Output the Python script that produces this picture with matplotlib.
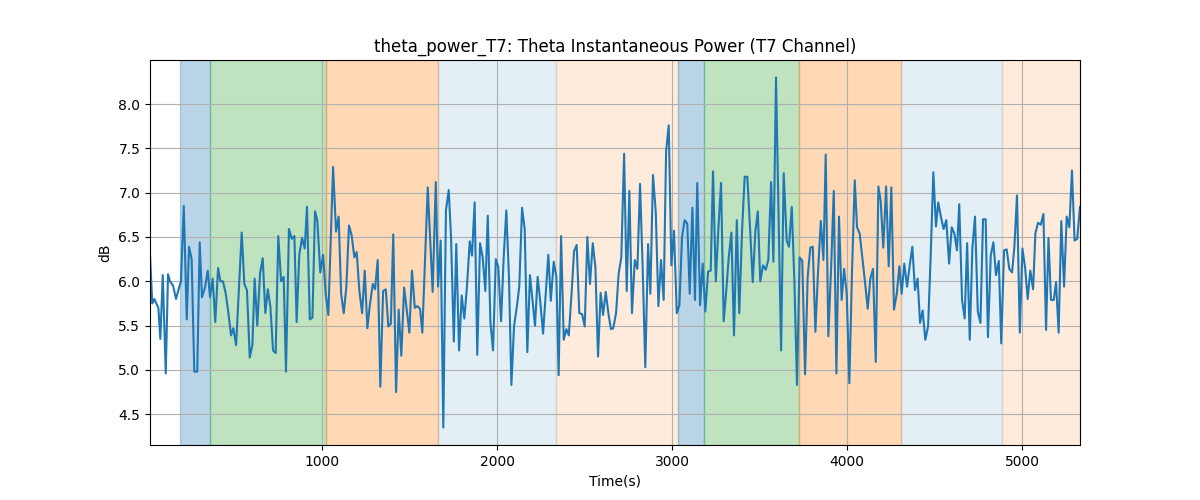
import matplotlib
matplotlib.use('Agg')
import matplotlib.pyplot as plt

# time stamps (s) and theta power (dB)
time_s = [17, 30, 42, 53, 65, 76, 90, 107, 120, 131, 149, 166, 179, 194, 210, 227, 240, 255, 270, 287,
          301, 314, 331, 347, 360, 375, 390, 406, 419, 434, 450, 465, 480, 493, 509,
          541, 556, 571, 587, 602, 615, 630, 646, 661, 676, 690, 705, 720, 735, 750, 766, 781, 794, 811,
          827, 842, 855, 870, 886, 901, 914, 930, 945, 960, 973, 990, 1006, 1021, 1036,
          1063, 1080, 1095, 1109, 1124, 1139, 1154, 1169, 1185, 1198, 1213, 1229, 1244, 1259, 1273, 1290,
          1303, 1318, 1333, 1349, 1364, 1379, 1393, 1407, 1423, 1438, 1453, 1469, 1484, 1499, 1514, 1530,
          1545, 1560, 1573,
          1604, 1632, 1650, 1663, 1678, 1693, 1708, 1724, 1737, 1753, 1767, 1783, 1798, 1813, 1828, 1844,
          1857, 1872, 1887, 1903, 1918, 1933, 1947, 1962, 1977, 1993, 2007, 2023, 2038, 2053,
          2068, 2082, 2097, 2113, 2127, 2143, 2158, 2173, 2188, 2204, 2217, 2232, 2247, 2263, 2278, 2293,
          2307, 2324, 2339, 2352, 2366, 2381, 2396, 2410, 2427, 2440, 2455, 2470, 2486, 2501, 2516, 2531,
          2547, 2562, 2577,
          2592, 2606, 2621, 2636, 2651, 2664, 2680, 2695, 2710, 2726, 2741, 2756, 2771, 2787, 2802, 2817,
          2832, 2847, 2863, 2876, 2891, 2907, 2922, 2937, 2952, 2966, 2981, 2996, 3011, 3027, 3042, 3057,
          3072, 3087, 3101,
          3116, 3131, 3144, 3160, 3175, 3190, 3206, 3221, 3234, 3250, 3264, 3280, 3295, 3310, 3324, 3339,
          3354, 3370, 3384, 3400, 3415, 3430, 3446, 3461, 3476, 3490, 3504, 3520, 3535, 3550, 3566, 3579,
          3594,
          3623, 3638, 3655, 3668, 3684, 3699, 3714, 3729, 3744, 3760, 3775, 3790, 3804, 3819, 3834, 3850,
          3865, 3878, 3893, 3909, 3924, 3939, 3954, 3969, 3983, 3998, 4013, 4028, 4044, 4057, 4072, 4087,
          4102, 4118,
          4133, 4148, 4164, 4179, 4192, 4207, 4223, 4238, 4253, 4268, 4284, 4299, 4312, 4327, 4343, 4358,
          4373, 4388, 4403, 4417, 4432, 4447, 4463, 4478, 4493, 4508, 4521, 4537, 4552, 4567, 4583, 4598,
          4613, 4628, 4641,
          4657, 4672, 4686, 4701, 4716, 4731, 4747, 4762, 4777, 4792, 4805, 4821, 4836, 4851, 4867, 4881,
          4897, 4912, 4927, 4943, 4956, 4971, 4987, 5002, 5017, 5032, 5047, 5063, 5076, 5091, 5107, 5122,
          5137, 5151,
          5165, 5181, 5194, 5209, 5224, 5240, 5255, 5270, 5285, 5300, 5315, 5331]

power_db = [6.30, 5.75, 5.80, 5.75, 5.70, 5.35, 6.07, 4.96, 6.08, 6.00, 5.95, 5.80, 5.90, 6.00, 6.85, 5.57,
            6.39, 6.25, 4.98, 4.98, 6.44, 5.82, 5.93, 6.12, 5.82, 6.03, 5.54, 6.15, 6.00, 6.00, 5.86, 5.64,
            5.39, 5.47, 5.28,
            6.55, 5.97, 5.90, 5.14, 5.28, 6.03, 5.50, 6.09, 6.26, 5.64, 5.91, 5.71, 5.22, 5.19, 6.51, 6.00,
            6.05, 4.98, 6.59, 6.48, 6.51, 5.54, 6.30, 6.49, 6.37, 6.84, 5.57, 5.59, 6.79, 6.69, 6.10, 6.30,
            5.86, 5.62,
            7.29, 6.56, 6.73, 5.86, 5.64, 5.94, 6.63, 6.52, 6.27, 6.33, 5.90, 5.64, 6.12, 5.47, 5.73, 5.97,
            5.91, 6.24, 4.81, 5.89, 5.91, 5.49, 5.52, 6.53, 4.75, 5.68, 5.16, 5.93, 5.68, 5.42, 6.12, 5.70,
            5.72, 5.69, 5.42,
            7.06, 5.88, 7.12, 5.94, 6.46, 4.35, 6.80, 7.03, 6.50, 5.32, 6.42, 5.22, 5.84, 5.58, 5.94, 6.45,
            6.29, 6.89, 5.17, 6.43, 6.27, 5.89, 6.74, 5.54, 5.22, 6.25, 6.16, 5.55, 6.27, 6.80,
            6.05, 4.83, 5.49, 5.71, 5.94, 6.83, 6.59, 5.20, 6.07, 5.75, 5.50, 6.05, 5.77, 5.41, 5.86, 6.30,
            5.78, 6.22, 6.05, 4.94, 6.51, 5.34, 5.46, 5.39, 5.90, 6.34, 6.41, 5.64, 5.63, 5.49, 6.50, 5.97,
            6.43, 6.16, 5.15,
            5.87, 5.62, 5.88, 5.64, 5.46, 5.47, 5.64, 6.09, 6.27, 7.44, 5.89, 7.02, 5.64, 6.24, 6.14, 7.10,
            6.16, 5.03, 6.42, 5.86, 7.20, 6.78, 5.72, 6.24, 5.79, 7.47, 7.76, 6.18, 6.57, 5.64, 5.73, 6.50,
            6.69, 6.65, 5.86,
            6.83, 5.79, 7.11, 5.73, 6.20, 5.66, 6.11, 6.12, 7.24, 6.00, 6.57, 7.11, 5.55, 5.90, 6.27, 6.55,
            5.39, 6.69, 5.64, 6.57, 7.18, 7.18, 6.59, 5.99, 6.56, 6.79, 6.00, 6.18, 6.13, 6.24, 7.12, 6.22,
            8.30,
            5.22, 7.22, 6.46, 6.39, 6.84, 6.00, 4.83, 6.27, 6.23, 4.95, 6.05, 6.38, 6.39, 5.43, 6.10, 6.68,
            6.24, 7.43, 5.38, 6.16, 7.02, 4.96, 6.73, 5.79, 6.14, 5.86, 4.85, 6.09, 7.14, 6.61, 6.54, 6.27,
            6.00, 5.69,
            6.03, 6.14, 5.09, 7.07, 6.91, 6.38, 7.07, 6.17, 7.06, 5.68, 5.86, 6.17, 5.86, 6.20, 5.94, 6.18,
            6.39, 5.90, 6.03, 5.53, 5.67, 5.34, 5.49, 6.30, 7.23, 6.62, 6.89, 6.72, 6.59, 6.69, 6.20, 6.61,
            6.54, 6.35, 6.87,
            5.79, 5.58, 6.43, 5.34, 6.37, 6.73, 5.66, 5.53, 6.70, 6.70, 5.37, 6.29, 6.44, 6.07, 6.23, 5.30,
            6.35, 6.36, 6.14, 6.10, 6.39, 6.97, 5.42, 6.37, 6.16, 5.80, 6.12, 5.91, 6.54, 6.66, 6.64, 6.76,
            5.45, 6.49,
            5.79, 5.79, 5.99, 5.42, 6.68, 5.94, 6.73, 6.61, 7.25, 6.46, 6.48, 6.84]

# shaded segments: start, end, colour, alpha
seg_start = [189, 360, 1025, 1665, 2339, 3032, 3185, 3726, 4307, 4888]
seg_end = [360, 1025, 1665, 2339, 3032, 3185, 3726, 4307, 4888, 5331]
seg_color = ['tab:blue', 'tab:green', 'tab:orange', 'tab:blue', 'tab:orange',
             'tab:blue', 'tab:green', 'tab:orange', 'tab:blue', 'tab:orange']
seg_alpha = [0.3, 0.3, 0.3, 0.12, 0.15, 0.3, 0.3, 0.3, 0.12, 0.15]

fig, ax = plt.subplots(figsize=(12, 5))
for s, e, c, a in zip(seg_start, seg_end, seg_color, seg_alpha):
    ax.axvspan(s, e, color=c, alpha=a)
ax.plot(time_s, power_db, color='tab:blue')
ax.set_xlim(time_s[0], time_s[-1])
ax.set_title('theta_power_T7: Theta Instantaneous Power (T7 Channel)')
ax.set_xlabel('Time(s)')
ax.set_ylabel('dB')
ax.grid(True)
plt.savefig('out.png')
